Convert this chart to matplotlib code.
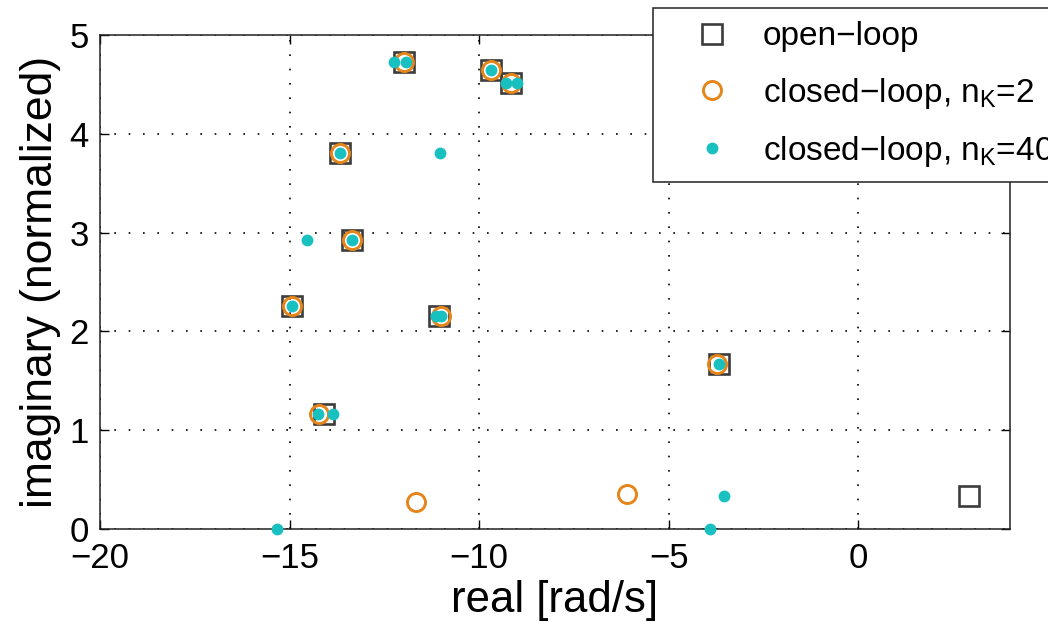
import matplotlib
matplotlib.use("Agg")
import matplotlib.pyplot as plt

plt.rcParams['font.family'] = ['Liberation Sans', 'DejaVu Sans']
plt.rcParams['mathtext.fontset'] = 'custom'
plt.rcParams['mathtext.rm'] = 'Liberation Sans'
plt.rcParams['mathtext.it'] = 'Liberation Sans'

# open-loop poles
open_re = [-11.99, -9.70, -9.16, -13.66, -13.36, -14.93, -11.06, -14.09, -3.68, 2.92]
open_im = [4.72, 4.64, 4.51, 3.80, 2.92, 2.26, 2.155, 1.17, 1.675, 0.34]

# closed-loop, n_K = 2
cl2_re = [-11.99, -9.70, -9.16, -13.66, -13.36, -14.93, -11.00, -14.22, -3.73, -11.67, -6.11]
cl2_im = [4.72, 4.64, 4.51, 3.80, 2.92, 2.26, 2.155, 1.17, 1.675, 0.28, 0.36]

# closed-loop, n_K = 40
cl40_re = [-12.24, -11.94, -9.70, -9.29, -9.01, -13.66, -11.04, -13.36, -14.53,
           -14.93, -11.15, -11.01, -14.26, -13.85, -3.68, -3.55, -3.90, -15.34]
cl40_im = [4.72, 4.72, 4.64, 4.51, 4.51, 3.80, 3.80, 2.92, 2.92,
           2.26, 2.155, 2.155, 1.17, 1.17, 1.675, 0.335, 0.0, 0.0]

labels = ["open\u2212loop", "closed\u2212loop, n$_\\mathrm{K}$=2", "closed\u2212loop, n$_\\mathrm{K}$=40"]
xticks = [-20, -15, -10, -5, 0]
yticks = [0, 1, 2, 3, 4, 5]

fig = plt.figure(figsize=(10.48, 6.23), dpi=100)
ax = fig.add_axes([0.0954, 0.1504, 0.8683, 0.7939])

ax.plot(open_re, open_im, ls='none', marker='s', ms=14, mfc='none', mec='#3c3c3c',
        mew=1.9, label=labels[0], clip_on=False, zorder=3)
ax.plot(cl2_re, cl2_im, ls='none', marker='o', ms=13, mfc='none', mec='#E5851A',
        mew=2.1, label=labels[1], clip_on=False, zorder=4)
ax.plot(cl40_re, cl40_im, ls='none', marker='o', ms=8.5, mfc='#19C0C0', mec='#19C0C0',
        mew=0, label=labels[2], clip_on=False, zorder=5)

ax.set_xlim(-20, 4)
ax.set_ylim(0, 5)
ax.set_xticks(xticks)
ax.set_yticks(yticks)
ax.set_xticklabels([str(t).replace('-', '\u2212') for t in xticks])
ax.set_yticklabels([str(t) for t in yticks])
ax.tick_params(direction='in', length=6.5, width=1, top=True, right=True,
               labelsize=25, colors='black')
ax.tick_params(axis='x', pad=9)
ax.tick_params(axis='y', pad=8)
ax.grid(True, color='black', linestyle=(0, (1, 7.6)), linewidth=1.2)
for s in ax.spines.values():
    s.set_linewidth(1.1)
    s.set_color('#222222')

ax.set_xlabel("real [rad/s]", fontsize=31.5, labelpad=4)
ax.set_ylabel("imaginary (normalized)", fontsize=32, labelpad=6)

leg = fig.legend(loc='upper left', bbox_to_anchor=(0.623, 0.987), fontsize=24,
                 frameon=True, fancybox=False, framealpha=1, edgecolor='#222222',
                 borderpad=0.4, handletextpad=0.15, labelspacing=0.7, handlelength=2.75,
                 borderaxespad=0)
leg.get_frame().set_linewidth(1.1)

fig.savefig("out.png", dpi=100)
